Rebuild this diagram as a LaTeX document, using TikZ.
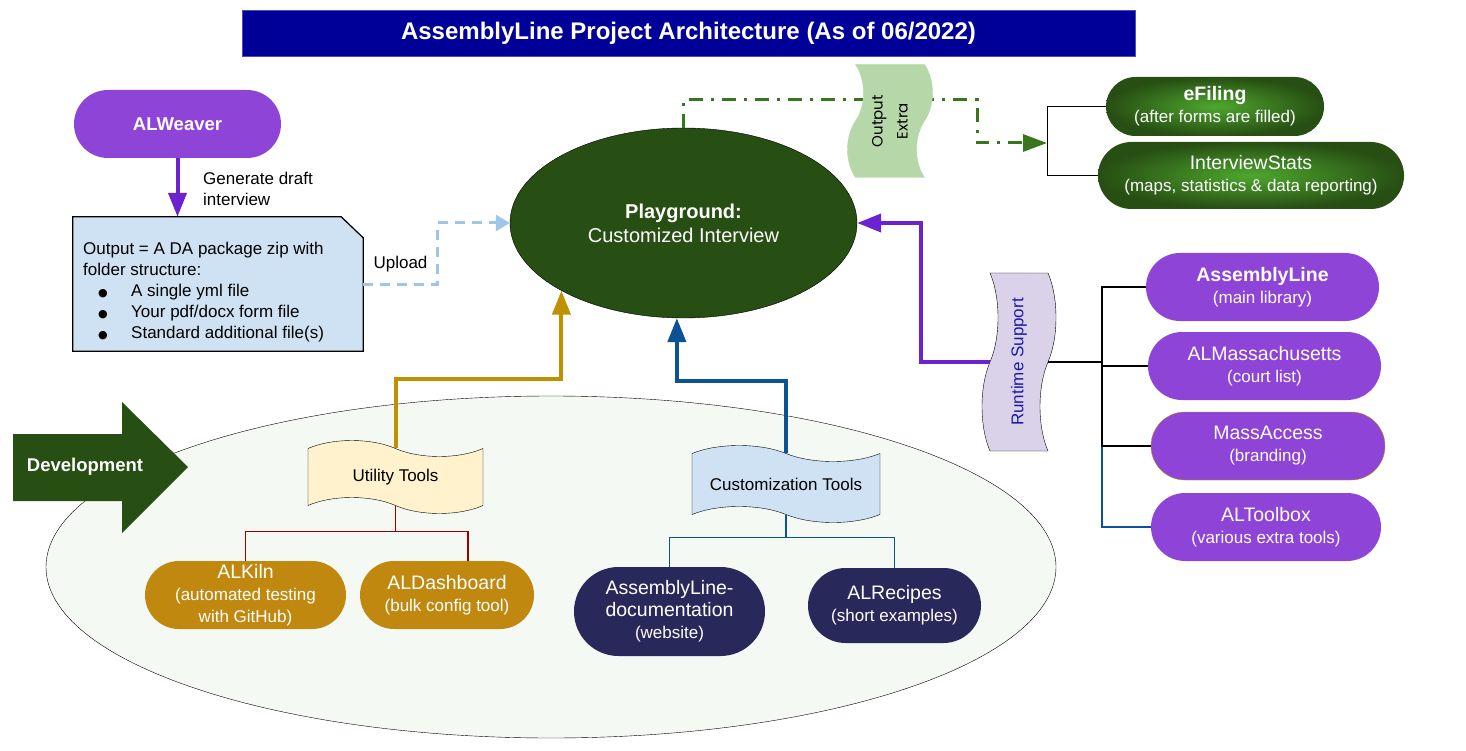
\documentclass[tikz,border=0pt]{standalone}
\usepackage{fontspec}
\setmainfont{Liberation Sans}
\newfontfamily\geofont{Poppins}
\newfontfamily\symfont{DejaVu Sans}
\usepackage{xcolor}
\usepackage{tikz}
\usetikzlibrary{positioning,calc,arrows.meta,shapes.misc,shapes.symbols,shapes.geometric}

\definecolor{titleblue}{HTML}{000099}
\definecolor{alpurple}{HTML}{8E44D6}
\definecolor{arrowpurple}{HTML}{6D22D0}
\definecolor{darkgreen}{HTML}{274E13}
\definecolor{midgreen}{HTML}{38761D}
\definecolor{lightgreen}{HTML}{B6D7A8}
\definecolor{shadegreen}{HTML}{4EA72E}
\definecolor{devbg}{HTML}{F4F9F3}
\definecolor{gold}{HTML}{BF9000}
\definecolor{pillgold}{HTML}{C0880F}
\definecolor{navy}{HTML}{29285B}
\definecolor{docblue}{HTML}{0B5394}
\definecolor{paleblue}{HTML}{CFE2F3}
\definecolor{uploadblue}{HTML}{9FC5E8}
\definecolor{cream}{HTML}{FFF2CC}
\definecolor{lavender}{HTML}{D9D2E9}
\definecolor{runblue}{HTML}{1A1AA8}
\definecolor{darkred}{HTML}{990000}

\newcommand{\pillsub}[1]{{\fontsize{17}{22}\selectfont #1}}
\newcommand{\bul}{\hspace*{15pt}\makebox[33pt][l]{\symfont\fontsize{11}{11}\selectfont ●}}

\begin{document}
\begin{tikzpicture}[x=1pt, y=-1pt,
    every node/.style={font=\fontsize{17}{21}\selectfont},
    pill/.style={rounded rectangle, align=center, text=white, inner sep=1pt, font=\fontsize{19.5}{22}\selectfont},
    purplepill/.style={pill, fill=alpurple},
    greenpill/.style={pill, inner color=shadegreen, outer color=darkgreen},
    goldpill/.style={pill, fill=pillgold},
    navypill/.style={pill, fill=navy},
    flag/.style={tape, draw, tape bend top=out and in, tape bend bottom=out and in, tape bend height=16pt, align=center, inner sep=2pt},
    bigarrow/.style={line width=4pt, -{Triangle[length=24pt, width=18pt]}},
    branch/.style={line width=1.2pt}]
    \useasboundingbox (0,0) rectangle (1466,751);

    % Title
    \node[fill=titleblue, draw=titleblue!70!white, minimum width=893pt, minimum height=46pt, text=white, font=\bfseries\fontsize{24}{28}\selectfont] (title) at (688.5,33) {AssemblyLine Project Architecture (As of 06/2022)};

    % Development area
    \node[ellipse, draw, fill=devbg, minimum width=1010pt, minimum height=342pt] (devarea) at (551,567) {};
    \fill[darkgreen] (13,434) -- (122,434) -- (122,402) -- (188,467) -- (122,533) -- (122,501) -- (13,501) -- cycle;
    \node[text=white, font=\bfseries\fontsize{18.5}{22}\selectfont] (dev) at (85,467) {Development};

    % ALWeaver and its output
    \node[purplepill, minimum width=209pt, minimum height=68pt, font=\bfseries\fontsize{18.5}{22}\selectfont] (weaver) at (177.5,124) {ALWeaver};
    \node[minimum width=290pt, minimum height=134pt, inner sep=0pt] (outbox) at (218,284) {};
    \filldraw[fill=paleblue, line width=1.3pt] (outbox.south west) |- ($(outbox.north east)+(-22,0)$) -- ($(outbox.north east)+(0,21)$) -- (outbox.south east) -- cycle;
    \node[anchor=north west, align=left, inner sep=0pt] (outtext) at (83,242) {Output = A DA package zip with\\folder structure:\\ \bul A single yml file\\ \bul Your pdf/docx form file\\ \bul Standard additional file(s)};
    \draw[bigarrow, arrowpurple] (weaver.south) -- (weaver.south |- outbox.north);
    \node[anchor=north west, align=left, inner sep=0pt] (genlabel) at (203,172) {Generate draft\\interview};

    % Playground
    \node[ellipse, draw, fill=darkgreen, text=white, minimum width=347pt, minimum height=190pt, align=center, font=\fontsize{20}{24}\selectfont] (play) at (683.5,223) {\textbf{Playground:}\\Customized Interview};
    \draw[uploadblue, line width=3pt, dash pattern=on 10pt off 7pt, -{Triangle[length=14pt, width=16pt]}] (outbox.east) -| ($(play.west)+(-72,0)$) node[pos=0.25, above=7pt, text=black] (uplabel) {Upload} -- (play.west);

    % Output extra
    \coordinate (xj) at (1047,143);
    \draw[midgreen, line width=3pt, dash pattern=on 14pt off 8pt on 3pt off 8pt, -{Triangle[length=24pt, width=17pt]}] (play.north) -- ($(play.north)+(0,-28)$) -| ($(xj)+(-70,0)$) -- (xj);
    \node[flag, fill=lightgreen, draw=lightgreen, rotate=90, minimum width=113pt, minimum height=85pt, font=\geofont\fontsize{15}{25}\selectfont] (extra) at (890,121) {Output\\Extra};
    \node[greenpill, minimum width=220pt, minimum height=59pt] (efile) at (1215,106.5) {\textbf{eFiling}\\\pillsub{(after forms are filled)}};
    \node[greenpill, minimum width=308pt, minimum height=67pt] (istats) at (1251,175.5) {InterviewStats\\\pillsub{(maps, statistics \& data reporting)}};
    \draw[line width=1pt] (efile.west) -| (xj) |- (istats.west);

    % Runtime support
    \node[flag, fill=lavender, rotate=90, minimum width=178pt, minimum height=74pt, text=runblue] (runtime) at (1019,362) {Runtime Support};
    \draw[bigarrow, arrowpurple] (runtime.north) -| ($(play.east)+(64,0)$) -- (play.east);
    \node[purplepill, minimum width=235pt, minimum height=68pt] (alcore) at (1262.5,287) {\textbf{AssemblyLine}\\\pillsub{(main library)}};
    \node[purplepill, minimum width=235pt, minimum height=68pt] (almass) at (1264.5,366) {ALMassachusetts\\\pillsub{(court list)}};
    \node[purplepill, draw=gold, minimum width=236pt, minimum height=68pt] (massacc) at (1268,446) {MassAccess\\\pillsub{(branding)}};
    \node[purplepill, minimum width=232pt, minimum height=68pt] (altbox) at (1266,527) {ALToolbox\\\pillsub{(various extra tools)}};
    \coordinate (rj) at (1102,362);
    \draw[branch, docblue] (rj) |- (altbox.west);
    \draw[branch] (runtime.south) -- (rj) |- (almass.west);
    \draw[branch] (alcore.west) -| (rj) |- (massacc.west);

    % Tools
    \node[flag, fill=cream, minimum width=175pt, minimum height=73pt] (util) at (395.5,477) {Utility Tools};
    \node[flag, fill=paleblue, minimum width=188pt, minimum height=77pt] (cust) at (786,484) {Customization Tools};
    \draw[bigarrow, gold] (util.north) |- ($(play.209)+(0,88)$) -- (play.209);
    \draw[bigarrow, docblue] (cust.north) |- ($(play.266)+(0,63)$) -- (play.266);

    \node[goldpill, minimum width=203pt, minimum height=68pt] (alkiln) at (245.5,595) {ALKiln\\\pillsub{(automated testing}\\\pillsub{with GitHub)}};
    \node[goldpill, minimum width=176pt, minimum height=68pt] (aldash) at (447,595) {ALDashboard\\\pillsub{(bulk config tool)}};
    \node[navypill, minimum width=193pt, minimum height=89pt] (aldoc) at (669.5,611.5) {AssemblyLine-\\documentation\\\pillsub{(website)}};
    \node[navypill, minimum width=175pt, minimum height=75pt] (alrec) at (894.5,605.5) {ALRecipes\\\pillsub{(short examples)}};

    \draw[branch, darkred] (util.south) -- ++(0,26) -| (alkiln.north);
    \draw[branch, darkred] (util.south) -- ++(0,26) -| ([xshift=21pt]aldash.north);
    \draw[branch, docblue] (cust.south) -- ++(0,23) -| (aldoc.north);
    \draw[branch, docblue] (cust.south) -- ++(0,23) -| (alrec.north);
\end{tikzpicture}
\end{document}
